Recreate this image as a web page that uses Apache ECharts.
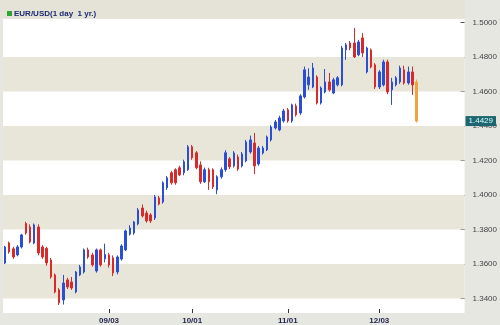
<!DOCTYPE html>
<html><head><meta charset="utf-8">
<script src="https://cdn.jsdelivr.net/npm/echarts@6/dist/echarts.min.js"></script>
<style>html,body{margin:0;padding:0;background:#e7e7e2}#c{width:500px;height:325px}</style>
</head><body><div id="c"></div>
<script>
const seriesName = 'EUR/USD(1 day  1 yr.)';
const dates = ['07/30','07/31',
'08/01','08/02','08/03','08/06','08/07','08/08','08/09','08/10','08/13','08/14','08/15','08/16','08/17','08/20','08/21','08/22','08/23','08/24','08/27','08/28','08/29','08/30','08/31',
'09/03','09/04','09/05','09/06','09/07','09/10','09/11','09/12','09/13','09/14','09/17','09/18','09/19','09/20','09/21','09/24','09/25','09/26','09/27','09/28',
'10/01','10/02','10/03','10/04','10/05','10/08','10/09','10/10','10/11','10/12','10/15','10/16','10/17','10/18','10/19','10/22','10/23','10/24','10/25','10/26','10/29','10/30','10/31',
'11/01','11/02','11/05','11/06','11/07','11/08','11/09','11/12','11/13','11/14','11/15','11/16','11/19','11/20','11/21','11/22','11/23','11/26','11/27','11/28','11/29','11/30',
'12/03','12/04','12/05','12/06','12/07','12/10','12/11','12/12','12/13','12/14'];
const tickLabels = ['09/03','10/01','11/01','12/03'];
const yTicks = [1.34,1.36,1.38,1.40,1.42,1.44,1.46,1.48,1.50];
const bands = [[1.34,1.36],[1.38,1.40],[1.42,1.44],[1.46,1.48]];
const open = [1.3606,1.3722,1.3688,1.3653,1.3699,1.3835,1.3815,1.3722,1.3815,1.3699,
1.3690,1.3624,1.3537,1.3450,1.3392,1.3508,1.3496,1.3438,1.3537,1.3554,
1.3682,1.3653,1.3560,1.3682,1.3630,1.3653,1.3636,1.3554,1.3629,1.3682,
1.3773,1.3780,1.3833,1.3925,1.3896,1.3885,1.3867,1.3983,1.3960,1.4042,
1.4129,1.4147,1.4158,1.4129,1.4147,1.4280,1.4245,1.4175,1.4077,1.4147,
1.4147,1.4030,1.4106,1.4147,1.4210,1.4169,1.4221,1.4169,1.4198,1.4250,
1.4302,1.4180,1.4244,1.4262,1.4320,1.4389,1.4378,1.4430,1.4494,1.4430,
1.4517,1.4476,1.4569,1.4639,1.4627,1.4685,1.4534,1.4598,1.4656,1.4592,
1.4639,1.4639,1.4842,1.4882,1.4882,1.4813,1.4911,1.4714,1.4841,1.4755,
1.4627,1.4639,1.4772,1.4610,1.4639,1.4656,1.4726,1.4650,1.4714,1.4656];
const close = [1.3699,1.3670,1.3641,1.3699,1.3769,1.3780,1.3728,1.3827,1.3664,1.3641,
1.3606,1.3525,1.3438,1.3375,1.3490,1.3467,1.3461,1.3554,1.3583,1.3682,
1.3641,1.3595,1.3682,1.3595,1.3655,1.3595,1.3548,1.3641,1.3705,1.3792,
1.3809,1.3844,1.3914,1.3879,1.3850,1.3850,1.3989,1.3948,1.4071,1.4100,
1.4071,1.4071,1.4117,1.4193,1.4280,1.4216,1.4158,1.4077,1.4147,1.4077,
1.4048,1.4106,1.4147,1.4245,1.4164,1.4244,1.4151,1.4238,1.4308,1.4320,
1.4169,1.4273,1.4273,1.4337,1.4395,1.4424,1.4447,1.4488,1.4430,1.4523,
1.4465,1.4575,1.4726,1.4685,1.4737,1.4534,1.4621,1.4656,1.4610,1.4668,
1.4680,1.4853,1.4871,1.4853,1.4801,1.4888,1.4824,1.4853,1.4743,1.4627,
1.4714,1.4772,1.4598,1.4656,1.4680,1.4737,1.4650,1.4714,1.4639,1.4429];
const low = [1.3600,1.3660,1.3630,1.3645,1.3690,1.3770,1.3720,1.3715,1.3650,1.3630,
1.3590,1.3515,1.3430,1.3363,1.3365,1.3455,1.3450,1.3430,1.3530,1.3545,
1.3630,1.3585,1.3550,1.3585,1.3610,1.3580,1.3530,1.3540,1.3620,1.3675,
1.3765,1.3770,1.3825,1.3870,1.3840,1.3838,1.3855,1.3940,1.3950,1.4030,
1.4060,1.4060,1.4110,1.4115,1.4140,1.4205,1.4150,1.4065,1.4070,1.4030,
1.4035,1.4005,1.4095,1.4135,1.4150,1.4160,1.4140,1.4160,1.4190,1.4240,
1.4122,1.4170,1.4235,1.4255,1.4310,1.4380,1.4370,1.4420,1.4420,1.4420,
1.4455,1.4465,1.4560,1.4610,1.4620,1.4525,1.4525,1.4590,1.4600,1.4585,
1.4630,1.4630,1.4784,1.4840,1.4795,1.4805,1.4801,1.4705,1.4735,1.4615,
1.4615,1.4630,1.4585,1.4523,1.4630,1.4645,1.4640,1.4640,1.4581,1.4420];
const high = [1.3705,1.3730,1.3700,1.3710,1.3775,1.3845,1.3830,1.3835,1.3830,1.3710,
1.3700,1.3635,1.3545,1.3460,1.3537,1.3520,1.3525,1.3560,1.3595,1.3690,
1.3695,1.3665,1.3690,1.3690,1.3718,1.3665,1.3650,1.3650,1.3715,1.3800,
1.3825,1.3850,1.3925,1.3945,1.3910,1.3895,1.4000,1.3995,1.4080,1.4110,
1.4140,1.4155,1.4170,1.4205,1.4290,1.4290,1.4255,1.4195,1.4160,1.4158,
1.4155,1.4115,1.4160,1.4260,1.4220,1.4255,1.4235,1.4250,1.4320,1.4345,
1.4360,1.4285,1.4285,1.4345,1.4405,1.4435,1.4460,1.4500,1.4505,1.4530,
1.4530,1.4585,1.4745,1.4735,1.4766,1.4695,1.4630,1.4731,1.4708,1.4680,
1.4690,1.4865,1.4882,1.4893,1.4969,1.4900,1.4940,1.4860,1.4850,1.4765,
1.4725,1.4785,1.4785,1.4680,1.4690,1.4750,1.4750,1.4745,1.4745,1.4670];

const UP = '#2a4fd6', DOWN = '#d82a2a', LAST = '#f2a23a';
const lastIdx = close.length - 1;
const candles = dates.map((d, i) => {
  const item = { value: [open[i], close[i], low[i], high[i]] };
  if (i === lastIdx) item.itemStyle = { color: LAST, color0: LAST, borderColor: LAST, borderColor0: LAST };
  return item;
});

const chart = echarts.init(document.getElementById('c'), null, { renderer: 'canvas' });
chart.setOption({
  animation: false,
  backgroundColor: '#e7e7e2',
  textStyle: { fontFamily: 'Liberation Sans, Arial, sans-serif' },
  graphic: [
    { type: 'rect', shape: { x: 0, y: 0, width: 465, height: 18 }, style: { fill: '#e5e3d7' }, z: -1 },
    { type: 'rect', shape: { x: 7, y: 11, width: 5, height: 5 }, style: { fill: '#2fa52f' }, z: 10 },
    { type: 'text', x: 14, y: 13.5, z: 10,
      style: { text: seriesName, font: 'bold 8px "Liberation Sans", Arial, sans-serif', fill: '#1c2a72', textVerticalAlign: 'middle' } }
  ],
  grid: { left: 3, right: 35, top: 19, bottom: 12, show: true, backgroundColor: '#ffffff', borderWidth: 0 },
  xAxis: {
    type: 'category', data: dates, boundaryGap: true, max: 110,
    axisLine: { show: false },
    axisTick: { show: true, inside: true, length: 4, alignWithLabel: true, lineStyle: { color: '#333' },
      interval: (i, v) => tickLabels.includes(v) },
    axisLabel: { fontSize: 8, fontWeight: 'bold', color: '#1e2248', margin: 4,
      interval: (i, v) => tickLabels.includes(v) },
    splitLine: { show: false }
  },
  yAxis: {
    type: 'value', position: 'right', min: 1.3316, max: 1.5021,
    axisLine: { show: false },
    axisTick: { show: true, inside: true, length: 4, customValues: yTicks, lineStyle: { color: '#555' } },
    axisLabel: { fontSize: 8, color: '#444', margin: 8, customValues: yTicks, formatter: v => v.toFixed(4) },
    splitLine: { show: false }
  },
  series: [
    {
      name: 'bands', type: 'line', data: [], z: 1, silent: true,
      markArea: { silent: true, itemStyle: { color: '#e8e6d9' },
        data: bands.map(b => [{ yAxis: b[0] }, { yAxis: b[1] }]) }
    },
    {
      name: seriesName, type: 'candlestick', data: candles, z: 3, barWidth: 2,
      itemStyle: { color: UP, color0: DOWN, borderColor: UP, borderColor0: DOWN, borderWidth: 1 },
      markLine: {
        silent: true, symbol: 'none', z: 10, precision: 4,
        lineStyle: { color: 'rgba(0,0,0,0)', width: 0 },
        label: { show: true, position: 'end', distance: 1, fontSize: 8, color: '#d8ffff', backgroundColor: '#1d6670',
          padding: [1, 3, 1, 3], formatter: p => Number(p.value).toFixed(4) },
        data: [{ yAxis: close[lastIdx] }]
      }
    }
  ]
});
</script></body></html>
